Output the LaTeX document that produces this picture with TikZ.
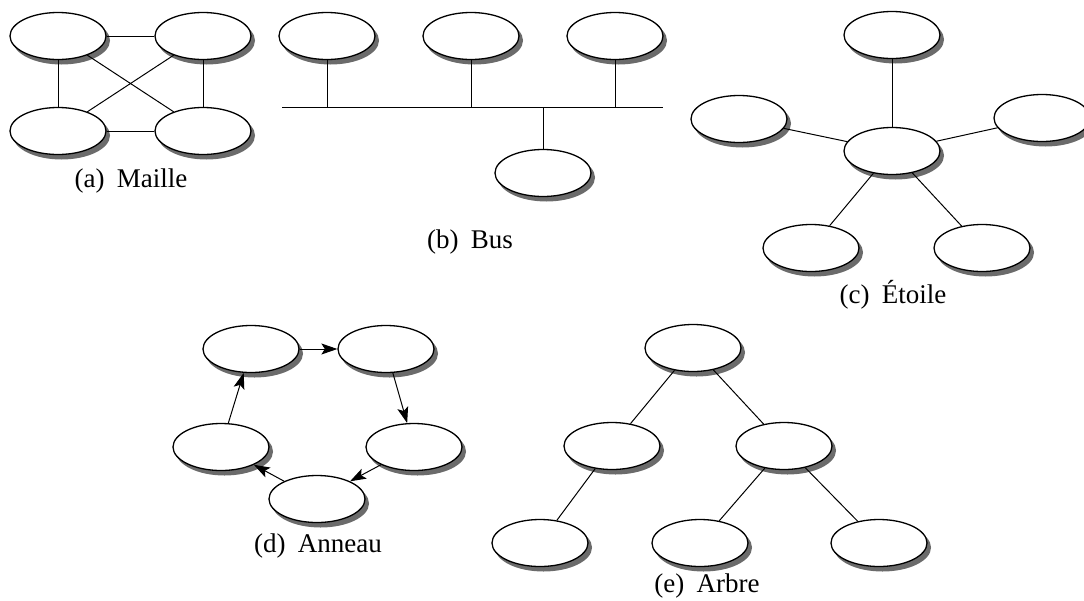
\documentclass[tikz,border=0pt]{standalone}
\usepackage{fontspec}
\setmainfont{Liberation Serif}
\usetikzlibrary{shapes.geometric,arrows.meta}
\pgfdeclarelayer{shadow}
\pgfsetlayers{shadow,main}
\begin{document}
\begin{tikzpicture}[x=1pt,y=-1pt,
  host/.style={ellipse,draw=black,line width=1.3pt,fill=white,
    minimum width=96pt,minimum height=47pt,inner sep=0pt},
  hostshadow/.style={fill=black!58},
  link/.style={line width=1pt},
  ring/.style={link,-{Stealth[length=16pt,width=11pt,inset=3.5pt]}},
  caption/.style={font=\fontsize{27}{32}\selectfont,inner sep=0pt}]
\useasboundingbox (0,0) rectangle (1084,600);

% (a) mesh
\node[host] (a1) at (58,36) {};
\node[host] (a2) at (203,36) {};
\node[host] (a3) at (58,131) {};
\node[host] (a4) at (203,131) {};
\draw[link] (a1) -- (a2);
\draw[link] (a3) -- (a4);
\draw[link] (a1) -- (a3);
\draw[link] (a2) -- (a4);
\draw[link] (a1) -- (a4);
\draw[link] (a2) -- (a3);
\node[caption] (capa) at (131,181) {(a)\hspace{0.45em}Maille};

% (b) bus
\node[host] (b1) at (327,36) {};
\node[host] (b2) at (471,36) {};
\node[host] (b3) at (615,36) {};
\node[host] (b4) at (543,173) {};
\coordinate (busL) at (282,107);
\coordinate (busR) at (663,107);
\draw[link] (busL) -- (busR);
\draw[link] (b1.south) -- (b1.south |- busL);
\draw[link] (b2.south) -- (b2.south |- busL);
\draw[link] (b3.south) -- (b3.south |- busL);
\draw[link] (b4.north |- busL) -- (b4.north);
\node[caption] (capb) at (470,242) {(b)\hspace{0.45em}Bus};

% (c) star
\node[host] (c0) at (892,151) {};
\node[host] (ct) at (892,35) {};
\node[host] (cl) at (739,119) {};
\node[host] (cr) at (1042,118) {};
\node[host] (cbl) at (811,248) {};
\node[host] (cbr) at (982,248) {};
\draw[link] (c0) -- (ct);
\draw[link] (c0) -- (cl);
\draw[link] (c0) -- (cr);
\draw[link] (c0) -- (cbl);
\draw[link] (c0) -- (cbr);
\node[caption] (capc) at (893,295) {(c)\hspace{0.45em}Étoile};

% (d) ring
\node[host] (d1) at (251,349) {};
\node[host] (d2) at (386,349) {};
\node[host] (d3) at (414,447) {};
\node[host] (d4) at (317,499) {};
\node[host] (d5) at (221,447) {};
\draw[ring] (d1) -- (d2);
\draw[ring] (d2) -- (d3);
\draw[ring] (d3) -- (d4);
\draw[ring] (d4) -- (d5);
\draw[ring] (d5) -- (d1);
\node[caption] (capd) at (318,546) {(d)\hspace{0.45em}Anneau};

% (e) tree
\node[host] (e1) at (693,348) {};
\node[host] (e2) at (612,446) {};
\node[host] (e3) at (784,446) {};
\node[host] (e4) at (540,543) {};
\node[host] (e5) at (700,543) {};
\node[host] (e6) at (879,543) {};
\draw[link] (e1) -- (e2);
\draw[link] (e1) -- (e3);
\draw[link] (e2) -- (e4);
\draw[link] (e3) -- (e5);
\draw[link] (e3) -- (e6);
\node[caption] (cape) at (707,586) {(e)\hspace{0.45em}Arbre};

% gray drop shadows under every host
\begin{pgfonlayer}{shadow}
\foreach \n in {a1,a2,a3,a4,b1,b2,b3,b4,c0,ct,cl,cr,cbl,cbr,d1,d2,d3,d4,d5,e1,e2,e3,e4,e5,e6}
  \fill[hostshadow] ([xshift=3.5pt,yshift=-4.5pt]\n.center) ellipse [x radius=48.5, y radius=24];
\end{pgfonlayer}
\end{tikzpicture}
\end{document}
